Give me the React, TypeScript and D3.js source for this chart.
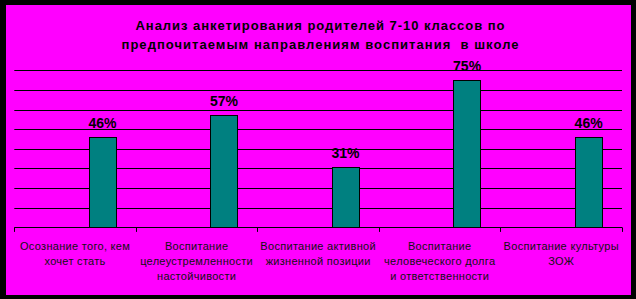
import React from "react";
import * as d3 from "d3";

const titleLines = [
  "Анализ анкетирования родителей 7-10 классов по",
  "предпочитаемым направлениям воспитания  в школе",
];
const categories = ["c1", "c2", "c3", "c4", "c5"];
const categoryLabels = [
  ["Осознание того, кем", "хочет стать"],
  ["Воспитание", "целеустремленности", "настойчивости"],
  ["Воспитание активной", "жизненной позиции"],
  ["Воспитание", "человеческого долга", "и ответственности"],
  ["Воспитание культуры", "ЗОЖ"],
];
const values = [46, 57, 31, 75, 46];
const valueLabels = ["46%", "57%", "31%", "75%", "46%"];
const gridTicks = [10, 20, 30, 40, 50, 60, 70, 80];

const W = 636;
const H = 299;
const plotLeft = 14.3;
const plotRight = 622;
const plotTop = 70.3;
const plotBottom = 227.4;

export default function App() {
  const x = d3.scaleBand<string>().domain(categories).range([plotLeft, plotRight]).padding(0);
  const y = d3.scaleLinear().domain([0, 80]).range([plotBottom, plotTop]);
  const bw = x.bandwidth();
  const barOff = bw * 0.613;
  const barW = bw * 0.225;

  return (
    <svg
      width={W}
      height={H}
      style={{ position: "fixed", left: 0, top: 0 }}
      fontFamily="Arial, 'Liberation Sans', sans-serif"
    >
      <rect x={0} y={0} width={W} height={H} fill="#000" />
      <rect x={6} y={5} width={625} height={290} fill="#FF00FF" />

      <text x={320} y={29.5} textAnchor="middle" fontSize={13} fontWeight="bold" fill="#000"
        textLength={369} lengthAdjust="spacing" style={{ whiteSpace: "pre" }}>{titleLines[0]}</text>
      <text x={320} y={48.5} textAnchor="middle" fontSize={13} fontWeight="bold" fill="#000"
        textLength={397} lengthAdjust="spacing" style={{ whiteSpace: "pre" }}>{titleLines[1]}</text>

      {gridTicks.map((t) => (
        <line key={t} x1={plotLeft} x2={plotRight} y1={Math.round(y(t)) + 0.5} y2={Math.round(y(t)) + 0.5}
          stroke="#000" strokeWidth={1} />
      ))}

      {categories.map((c, i) => {
        const x0 = x(c)!;
        const top = y(values[i]);
        return (
          <g key={c}>
            <rect x={Math.round(x0 + barOff) + 0.5} y={Math.round(top) + 0.5}
              width={Math.round(barW)} height={Math.round(plotBottom) - Math.round(top)}
              fill="#008080" stroke="#000" strokeWidth={1} />
            <text x={x0 + barOff + barW / 2} y={top - 9} textAnchor="middle" fontSize={14}
              fontWeight="bold" fill="#000">{valueLabels[i]}</text>
          </g>
        );
      })}

      <line x1={plotLeft} x2={plotRight} y1={Math.round(plotBottom) + 0.5} y2={Math.round(plotBottom) + 0.5}
        stroke="#000" strokeWidth={1} />
      {[...categories.map((c) => x(c)!), plotRight].map((tx, i) => (
        <line key={i} x1={Math.round(tx) + 0.5} x2={Math.round(tx) + 0.5} y1={plotBottom} y2={plotBottom + 4.5}
          stroke="#000" strokeWidth={1} />
      ))}

      {categories.map((c, i) => (
        <g key={c}>
          {categoryLabels[i].map((line, j) => (
            <text key={j} x={x(c)! + bw / 2} y={250 + j * 15} textAnchor="middle" fontSize={11}
              letterSpacing={0.3} fill="#111">{line}</text>
          ))}
        </g>
      ))}
    </svg>
  );
}
